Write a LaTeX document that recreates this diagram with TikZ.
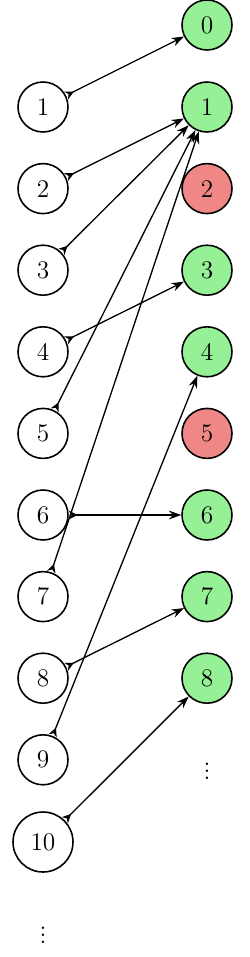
\documentclass[tikz,border=0pt]{standalone}
\usetikzlibrary{arrows.meta}
\definecolor{okgreen}{RGB}{150,240,150}
\definecolor{badred}{RGB}{240,135,135}
\begin{document}
\begin{tikzpicture}[x=0.02cm,y=-0.02cm,
  vert/.style={circle,draw,line width=0.9pt,minimum size=1.0cm,inner sep=0pt,font=\Large},
  good/.style={vert,fill=okgreen},
  bad/.style={vert,fill=badred},
  link/.style={line width=0.75pt,{Stealth[reversed,length=5pt,width=5pt]}-{Stealth[length=7pt,width=5pt]}}]
\useasboundingbox (0,0) rectangle (250,957);
% right column
\node[good] (r0) at (207,25) {0};
\foreach \k/\s in {1/good,2/bad,3/good,4/good,5/bad,6/good,7/good,8/good}{
  \node[\s] (r\k) at (207,{107+81.6*(\k-1)}) {\k};
}
\node[font=\Large] (rdots) at (207,766) {$\vdots$};
% left column
\foreach \k in {1,...,9}{
  \node[vert] (l\k) at (43,{107+81.6*(\k-1)}) {\k};
}
\node[vert,minimum size=1.2cm] (l10) at (43,842) {10};
\node[font=\Large] (ldots) at (43,930) {$\vdots$};
% connectors
\draw[link] (l1) -- (r0);
\draw[link] (l2) -- (r1);
\draw[link] (l3) -- (r1);
\draw[link] (l5) -- (r1);
\draw[link] (l7) -- (r1);
\draw[link] (l4) -- (r3);
\draw[link] (l9) -- (r4);
\draw[link] (l6) -- (r6);
\draw[link] (l8) -- (r7);
\draw[link] (l10) -- (r8);
\end{tikzpicture}
\end{document}
